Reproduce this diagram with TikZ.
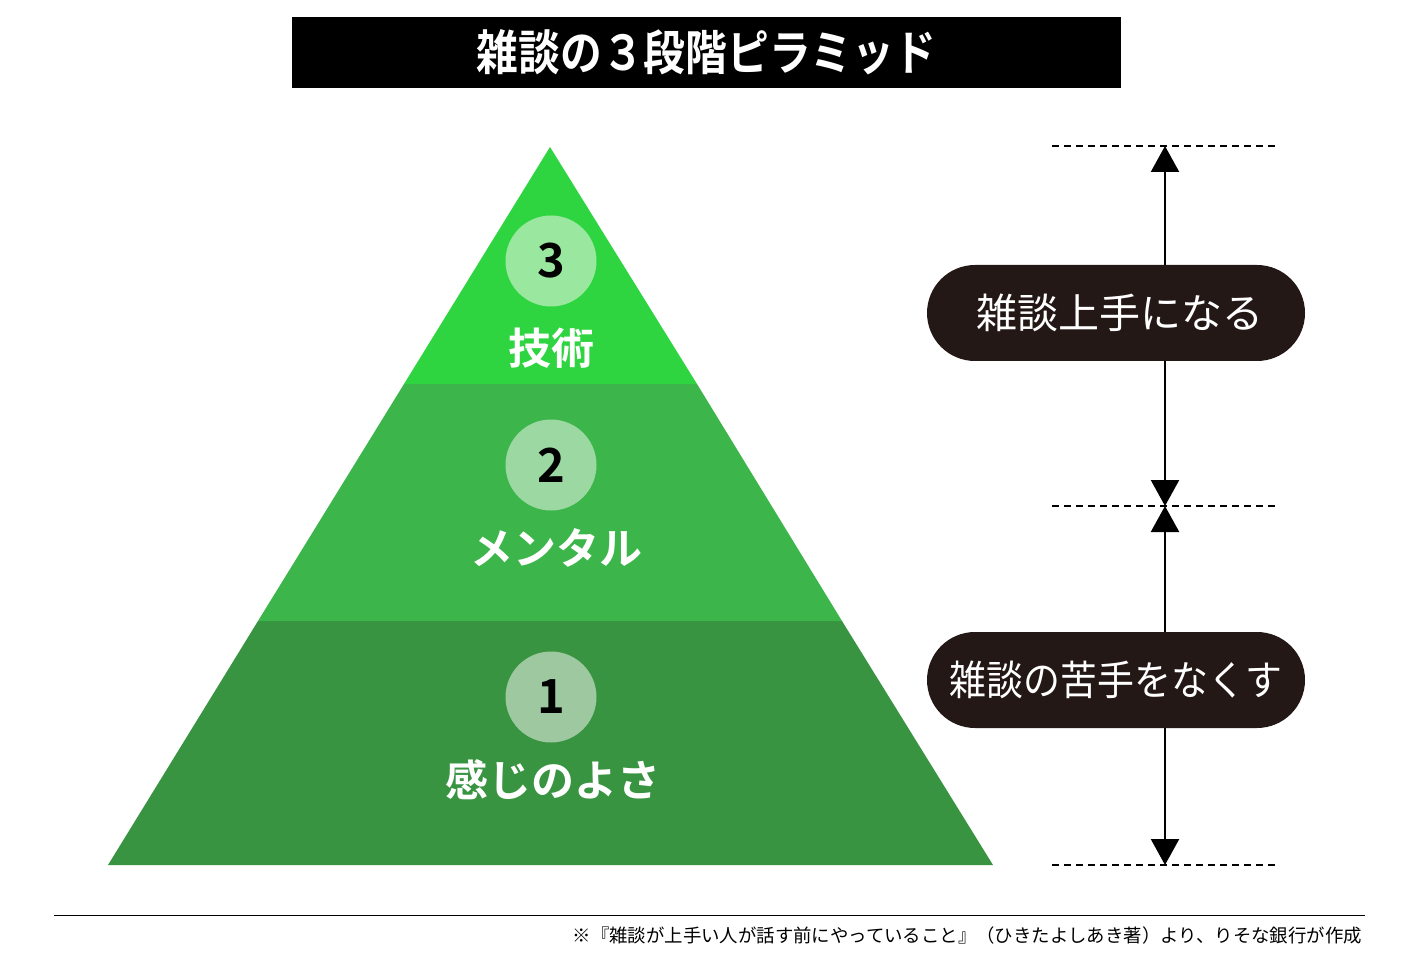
\documentclass[tikz,border=0pt]{standalone}
\usepackage{fontspec}
\setmainfont{Noto Sans CJK JP}[BoldFont={Noto Sans CJK JP Bold}]
\usetikzlibrary{arrows.meta}
\definecolor{greenA}{HTML}{2FD541}
\definecolor{greenB}{HTML}{3CB54A}
\definecolor{greenC}{HTML}{389440}
\definecolor{paleA}{HTML}{9AE8A0}
\definecolor{paleB}{HTML}{9CD9A2}
\definecolor{paleC}{HTML}{9EC8A0}
\definecolor{pillbg}{HTML}{231815}
\begin{document}
\begin{tikzpicture}[x=1pt,y=-1pt,
    badge/.style={circle,minimum size=91pt,inner sep=0pt,font=\fontsize{47}{50}\selectfont\bfseries},
    stage/.style={text=white,inner sep=0pt,font=\fontsize{43}{46}\selectfont\bfseries},
    pill/.style={fill=pillbg,rounded corners=48pt,minimum width=378pt,minimum height=96pt,text=white,inner sep=0pt,font=\fontsize{41}{46}\selectfont},
    guide/.style={line width=2.6pt,dash pattern=on 7pt off 5pt},
    span/.style={line width=2.4pt,{Triangle[width=28pt,length=26pt]}-{Triangle[width=28pt,length=26pt]}}]
    \useasboundingbox (0,0) rectangle (1414,968);

    \path[coordinate] (550,147) coordinate(apex)
                (404,384) coordinate(L3)  (697,384) coordinate(R3)
                (258,621) coordinate(L2)  (842,621) coordinate(R2)
                (108,865) coordinate(L1)  (993,865) coordinate(R1);
    \fill[greenC] (L2) -- (R2) -- (R1) -- (L1) -- cycle;
    \fill[greenB] (L3) -- (R3) -- (R2) -- (L2) -- cycle;
    \fill[greenA] (apex) -- (R3) -- (L3) -- cycle;

    \node[badge,fill=paleA] (n3) at (551,261) {3};
    \node[badge,fill=paleB] (n2) at (551,465) {2};
    \node[badge,fill=paleC] (n1) at (551,697) {1};
    \node[stage] (s3) at (551,348) {技術};
    \node[stage] (s2) at (556,548) {メンタル};
    \node[stage] (s1) at (553,780) {感じのよさ};

    \path[coordinate] (1052,146) coordinate(ga)  (1277,146) coordinate(gb)
                (1052,506) coordinate(gc)  (1277,506) coordinate(gd)
                (1052,865) coordinate(ge)  (1277,865) coordinate(gf)
                (1165,146) coordinate(top) (1165,506) coordinate(mid)
                (1165,865) coordinate(bot);
    \draw[guide] (ga) -- (gb);
    \draw[guide] (gc) -- (gd);
    \draw[guide] (ge) -- (gf);
    \draw[span] (top) -- (mid);
    \draw[span] (mid) -- (bot);

    \node[pill] (good) at (1116,313) {\hspace*{8pt}雑談上手になる};
    \node[pill] (fear) at (1116,680) {\scalebox{0.9}[1]{雑談の苦手をなくす}};

    \node[fill=black,minimum width=829pt,minimum height=71pt,inner sep=0pt] (title) at (706.5,52.5)
        {\color{white}\fontsize{48}{52}\selectfont\bfseries\scalebox{0.87}[1]{雑談の３段階ピラミッド}};

    \path[coordinate] (54,915) coordinate(ra) (1365,915) coordinate(rb);
    \draw[line width=1pt] (ra) -- (rb);
    \node[anchor=east,inner sep=0pt,font=\fontsize{18.4}{20}\selectfont] (note) at (1362,936)
        {※『雑談が上手い人が話す前にやっていること』（ひきたよしあき著）より、りそな銀行が作成};
\end{tikzpicture}
\end{document}
